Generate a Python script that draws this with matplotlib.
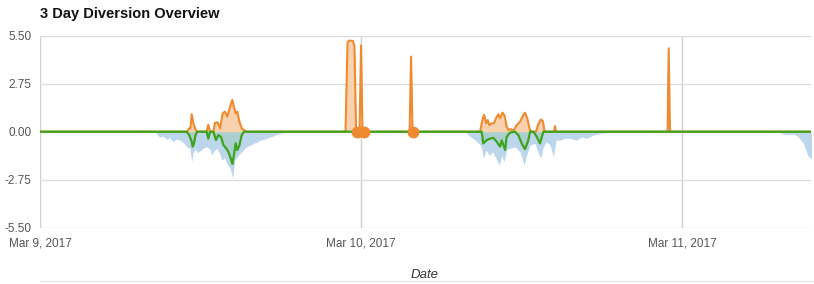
import matplotlib
matplotlib.use("Agg")
import matplotlib.pyplot as plt
import numpy as np
import pandas as pd

plt.rcParams['font.family'] = ['Liberation Sans', 'DejaVu Sans']

# DATI (ore dopo il 9 marzo 2017 00:00)
start = pd.Timestamp("2017-03-09")
x_max_h = 57.64

blu_h = [8.60, 8.80, 8.97, 9.20, 9.47, 9.70, 9.94, 10.20, 10.47, 10.70, 10.97, 11.20,
         11.34, 11.45, 11.59, 11.80, 11.96, 12.20, 12.46, 12.70, 12.84, 13.00, 13.21,
         13.40, 13.59, 13.80, 13.96, 14.21, 14.41, 14.50, 14.58, 14.83, 15.08, 15.25,
         15.45, 15.70, 15.95, 16.20, 16.45, 16.70, 16.95, 17.20, 17.44, 17.70, 17.94,
         18.44,
         31.78, 32.15, 32.40, 32.65, 32.85, 33.02, 33.14, 33.35, 33.59, 33.85, 34.15,
         34.34, 34.52, 34.69, 34.89, 35.14, 35.51, 35.89, 36.19, 36.39, 36.64, 37.01,
         37.26, 37.44, 37.63, 37.88, 38.13, 38.38, 38.58, 38.88, 39.25, 39.63, 40.13,
         40.50, 40.88, 41.37, 41.87, 42.37, 42.86,
         55.33, 55.45, 55.83, 56.32, 56.70, 57.07, 57.44, 57.70]
blu_v = [0, -0.2, -0.32, -0.25, -0.44, -0.35, -0.57, -0.42, -0.48, -0.62, -0.86, -0.95,
         -1.72, -1.2, -1.0, -1.2, -1.1, -0.95, -0.86, -1.0, -1.34, -1.1, -0.95,
         -1.2, -1.62, -1.5, -1.81, -2.1, -2.67, -2.0, -1.62, -1.34, -1.15, -1.0,
         -0.86, -0.78, -0.67, -0.6, -0.48, -0.45, -0.38, -0.3, -0.25, -0.15, -0.1,
         0,
         0, -0.27, -0.4, -0.57, -0.7, -0.95, -1.53, -1.05, -1.34, -1.15, -1.62,
         -1.91, -1.34, -1.72, -1.0, -0.95, -0.86, -1.15, -1.91, -1.34, -0.76, -0.67,
         -1.24, -1.53, -0.86, -0.57, -0.76, -1.43, -0.48, -0.48, -0.38, -0.38, -0.48,
         -0.29, -0.38, -0.19, -0.1, -0.05, 0,
         0, -0.1, -0.17, -0.12, -0.3, -0.67, -1.43, -1.53]

arancio_h = [0, 10.97, 11.16, 11.25, 11.34, 11.46, 11.59, 11.74, 12.46, 12.58, 12.71,
             12.96, 13.08, 13.26, 13.46, 13.66, 13.83, 14.0, 14.21, 14.38, 14.5, 14.63,
             14.75, 14.9, 15.08, 15.25, 15.4,
             22.84, 22.99, 23.1, 23.4, 23.51, 23.63, 23.89, 24.0, 24.11,
             27.63, 27.74, 27.85,
             32.9, 33.07, 33.2, 33.35, 33.47, 33.59, 33.77, 33.94, 34.14, 34.27, 34.39,
             34.57, 34.72, 34.89, 35.01, 35.19, 35.39, 35.64, 35.89, 36.14, 36.26,
             36.43, 36.56, 36.69, 37.08, 37.23, 37.44, 37.6, 37.72, 38.43, 38.5, 38.58,
             46.92, 47.0, 47.1, 57.64]
arancio_v = [0, 0, 0.19, 0.2, 1.0, 0.5, 0.2, 0, 0, 0.4, 0,
             0, 0.5, 0.55, 0.2, 1.05, 1.15, 0.86, 1.43, 1.82, 1.43, 1.05,
             1.15, 0.6, 0.2, 0.1, 0,
             0, 5.1, 5.22, 5.2, 4.9, 0, 0, 4.95, 0,
             0, 4.3, 0,
             0, 0.67, 0.96, 0.48, 0.67, 0.38, 0.48, 0.48, 0.86, 1.0, 0.77,
             1.09, 0.96, 0.29, 0.1, 0.15, 0.05, 0.38, 0.57, 0.96, 1.09,
             0.77, 0.29, 0, 0, 0.38, 0.7, 0.6, 0, 0, 0.32, 0,
             0, 4.78, 0, 0]

punti_h = [23.71, 24.22, 27.9]
punti_v = [0, 0, 0]

verde_h = [0, 10.97, 11.16, 11.34, 11.42, 11.51, 11.63, 11.74, 12.46, 12.58, 12.71,
           12.96, 13.16, 13.33, 13.53, 13.71, 13.91, 14.08, 14.26, 14.38, 14.5, 14.63,
           14.75, 14.9, 15.08, 15.25,
           33.02, 33.14, 33.4, 33.64, 33.89, 34.14, 34.39, 34.52, 34.77, 34.89, 35.14,
           35.51, 35.76, 36.01, 36.26, 36.51, 36.64, 36.89, 37.14, 37.38, 37.63, 57.64]
verde_v = [0, 0, -0.2, -0.57, -0.86, -0.67, -0.2, 0, 0, -0.4, 0,
           0, -0.48, -0.2, -0.3, -0.76, -0.95, -1.15, -1.53, -1.85, -1.34, -0.67,
           -1.05, -0.8, -0.2, 0,
           0, -0.67, -0.48, -0.4, -0.35, -0.57, -0.86, -0.5, -1.05, -0.3, -0.05,
           0, -0.2, -0.67, -1.0, -0.48, 0, 0, -0.3, -0.67, 0, 0]

y_ticks = [-5.5, -2.75, 0, 2.75, 5.5]


def to_date(ore):
    return start + pd.to_timedelta(np.array(ore), unit="h")


fig = plt.figure(figsize=(8.14, 2.84), dpi=100)
ax = fig.add_axes([40 / 814, 1 - 227.7 / 284, 771 / 814, 192 / 284])

xb = to_date(blu_h)
ax.fill_between(xb, blu_v, 0, color="#bcd6ec", lw=0, zorder=2)

xa = to_date(arancio_h)
ax.fill_between(xa, arancio_v, 0, color="#f8d2ae", lw=0, zorder=3)
ax.plot(xa, arancio_v, color="#ee8a2f", lw=1.5, zorder=4, solid_joinstyle="round")

xv = to_date(verde_h)
ax.fill_between(xv, verde_v, 0, color="#4aa82a", alpha=0.15, lw=0, zorder=3)
ax.plot(xv, verde_v, color="#3ca31c", lw=1.6, zorder=5, solid_joinstyle="round")

ax.plot(to_date(punti_h), punti_v, "o", color="#ee8a2f", ms=7.5, zorder=6)

ax.set_xlim(start, start + pd.Timedelta(hours=x_max_h))
ax.set_ylim(-5.5, 5.5)
ax.set_yticks(y_ticks)
ax.set_yticklabels([f"{v:.2f}" for v in y_ticks])

giorni = [start + pd.Timedelta(days=i) for i in range(3)]
ax.set_xticks(giorni)
ax.set_xticklabels([f"Mar {d.day}, 2017" for d in giorni])

ax.grid(axis="y", color="#dcdcdc", lw=1)
for d in giorni:
    ax.axvline(d, color="#d0d0d0", lw=1, zorder=1)
for s in ax.spines.values():
    s.set_visible(False)
ax.tick_params(length=0, labelsize=8.5, colors="#555555", pad=6)
ax.tick_params(axis="x", pad=7)

fig.text(40 / 814, 1 - 14 / 284, "3 Day Diversion Overview", fontsize=10.5,
         fontweight="bold", va="center", ha="left", color="#111111")
fig.text(425 / 814, 1 - 275 / 284, "Date", fontsize=9.5, style="italic",
         ha="center", va="center", color="#333333")
fig.add_artist(plt.Line2D([40 / 814, 1], [1 - 281 / 284] * 2, color="#e6e6e6", lw=1))

fig.savefig("out.png", dpi=100)
